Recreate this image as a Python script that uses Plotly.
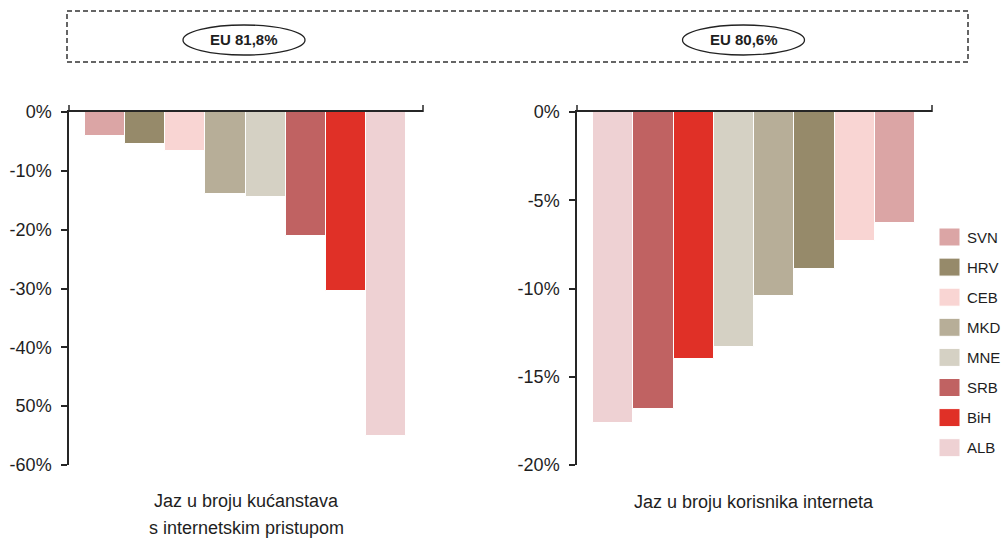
import plotly.graph_objects as go

W, H = 1001, 539

# Gap to the EU average (percentage points), left panel: households with internet access
household_codes = ["SVN", "HRV", "CEB", "MKD", "MNE", "SRB", "BiH", "ALB"]
household_gap = [-4.1, -5.4, -6.6, -13.9, -14.5, -21.1, -30.4, -55.1]

# Right panel: internet users
user_codes = ["ALB", "SRB", "BiH", "MNE", "MKD", "HRV", "CEB", "SVN"]
user_gap = [-17.6, -16.8, -14.0, -13.3, -10.4, -8.9, -7.3, -6.3]

country_colors = {
    "SVN": "#DBA5A5",
    "HRV": "#968A6A",
    "CEB": "#F9D5D3",
    "MKD": "#B7AE98",
    "MNE": "#D5D1C4",
    "SRB": "#C06262",
    "BiH": "#E03027",
    "ALB": "#EED1D3",
}
legend_order = ["SVN", "HRV", "CEB", "MKD", "MNE", "SRB", "BiH", "ALB"]

left_tickvals = [0, -10, -20, -30, -40, -50, -60]
left_ticktext = ["0%", "-10%", "-20%", "-30%", "-40%", "50%", "-60%"]
right_tickvals = [0, -5, -10, -15, -20]
right_ticktext = ["0%", "-5%", "-10%", "-15%", "-20%"]

eu_labels = ["EU 81,8%", "EU 80,6%"]
left_title_lines = ["Jaz u broju kućanstava", "s internetskim pristupom"]
right_title_lines = ["Jaz u broju korisnika interneta"]

FONT = "Liberation Sans, Arial, sans-serif"
INK = "#1e1e1e"
AXIS = "#262626"


def px(x):
    return x / W


def py(y):
    return 1 - y / H


fig = go.Figure()

fig.add_trace(go.Bar(
    x=household_codes, y=household_gap,
    marker=dict(color=[country_colors[c] for c in household_codes],
                line=dict(color="white", width=1)),
    xaxis="x", yaxis="y", showlegend=False,
))
fig.add_trace(go.Bar(
    x=user_codes, y=user_gap,
    marker=dict(color=[country_colors[c] for c in user_codes],
                line=dict(color="white", width=1)),
    xaxis="x2", yaxis="y2", showlegend=False,
))

panels = [
    dict(x0=69, x1=423),
    dict(x0=577, x1=932),
]
top_px, bottom_px = 112, 465

common_x = dict(type="category", range=[-0.9, 7.92], side="top",
                showline=True, linecolor=AXIS, linewidth=1.5,
                showticklabels=False, ticks="", showgrid=False,
                zeroline=False, fixedrange=True, automargin=False)
common_y = dict(ticks="outside", ticklen=6, tickwidth=1.5, tickcolor=AXIS,
                showline=True, linecolor=AXIS, linewidth=1.5,
                showgrid=False, zeroline=False, fixedrange=True,
                automargin=False,
                tickfont=dict(family=FONT, size=18, color=INK),
                ticklabelstandoff=6)

fig.update_layout(
    template="none",
    width=W, height=H,
    autosize=False,
    margin=dict(l=0, r=0, t=0, b=0, pad=0),
    paper_bgcolor="white", plot_bgcolor="white",
    bargap=0,
    showlegend=False,
    xaxis=dict(common_x, domain=[px(panels[0]["x0"]), px(panels[0]["x1"])],
               anchor="y"),
    yaxis=dict(common_y, domain=[py(bottom_px), py(top_px)], range=[-60, 0],
               tickvals=left_tickvals, ticktext=left_ticktext, anchor="x"),
    xaxis2=dict(common_x, domain=[px(panels[1]["x0"]), px(panels[1]["x1"])],
                anchor="y2"),
    yaxis2=dict(common_y, domain=[py(bottom_px), py(top_px)], range=[-20, 0],
                tickvals=right_tickvals, ticktext=right_ticktext, anchor="x2"),
)

shapes = []
annotations = []

# small upward end ticks on the zero line
for p in panels:
    for xe in (p["x0"], p["x1"]):
        shapes.append(dict(type="line", xref="paper", yref="paper",
                           x0=px(xe), x1=px(xe), y0=py(top_px), y1=py(top_px - 7),
                           line=dict(color=AXIS, width=1.5)))

# dashed frame across the top
shapes.append(dict(type="rect", xref="paper", yref="paper",
                   x0=px(67), x1=px(968), y0=py(62), y1=py(11),
                   line=dict(color="#333333", width=1.5, dash="5px,3px")))

# EU reference ellipses
for cx, label in zip((244, 743.5), eu_labels):
    shapes.append(dict(type="circle", xref="paper", yref="paper",
                       x0=px(cx - 61), x1=px(cx + 61), y0=py(55), y1=py(25),
                       line=dict(color="#222222", width=1.3)))
    annotations.append(dict(x=px(cx), y=py(40), xref="paper", yref="paper",
                            text=f"<b>{label}</b>", showarrow=False,
                            xanchor="center", yanchor="middle",
                            font=dict(family=FONT, size=15, color=INK)))

# panel captions
for i, line in enumerate(left_title_lines):
    annotations.append(dict(x=px(246), y=py(501 + 27 * i), xref="paper", yref="paper",
                            text=line, showarrow=False, xanchor="center",
                            yanchor="middle",
                            font=dict(family=FONT, size=18, color=INK)))
for i, line in enumerate(right_title_lines):
    annotations.append(dict(x=px(754), y=py(502 + 27 * i), xref="paper", yref="paper",
                            text=line, showarrow=False, xanchor="center",
                            yanchor="middle",
                            font=dict(family=FONT, size=18, color=INK)))

# legend
for i, code in enumerate(legend_order):
    yc = 237 + 30.1 * i
    shapes.append(dict(type="rect", xref="paper", yref="paper",
                       x0=px(939), x1=px(960), y0=py(yc + 9), y1=py(yc - 9),
                       fillcolor=country_colors[code],
                       line=dict(color="white", width=1)))
    annotations.append(dict(x=px(965), y=py(yc), xref="paper", yref="paper",
                            text=code, showarrow=False, xanchor="left",
                            yanchor="middle",
                            font=dict(family=FONT, size=15, color=INK)))

fig.update_layout(shapes=shapes, annotations=annotations)

fig.write_html("out.html")
